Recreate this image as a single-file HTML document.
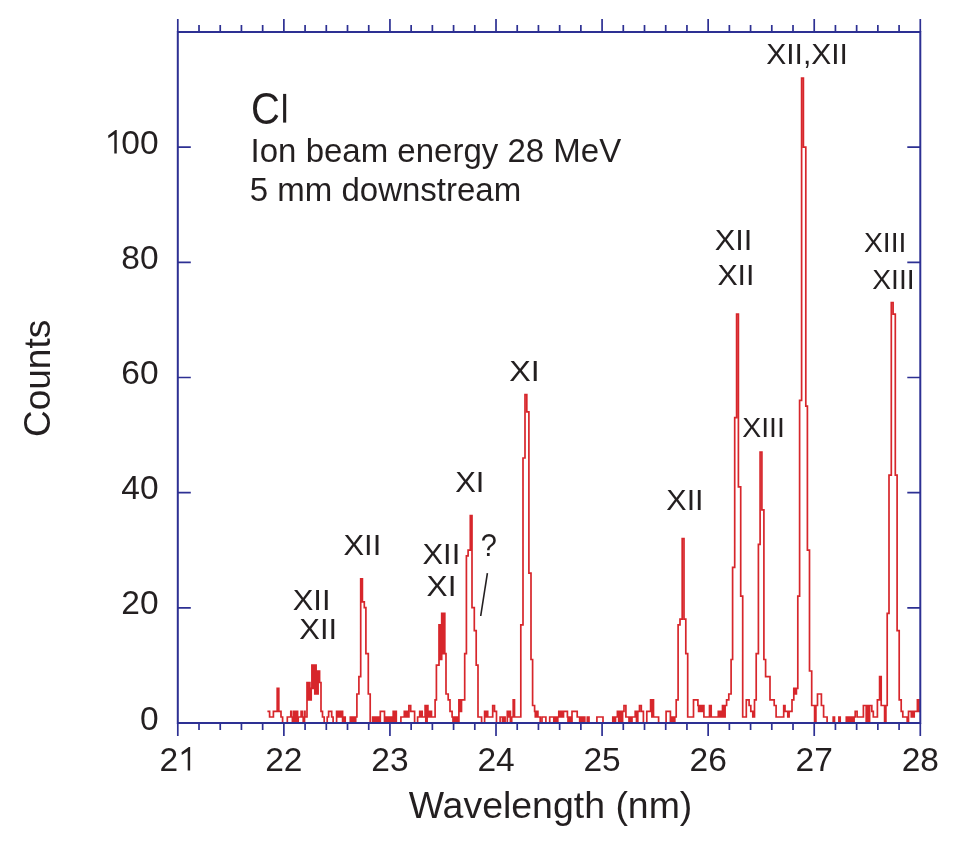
<!DOCTYPE html>
<html><head><meta charset="utf-8"><style>html,body{margin:0;padding:0;background:#fff;}svg{display:block;will-change:transform;}text{font-family:"Liberation Sans",sans-serif;}</style></head>
<body><svg width="972" height="849" viewBox="0 0 972 849">
<path d="M267.4,711.3H269.6V717.0H273.4V711.3H277.2V688.3H278.8V711.3H281.0V717.0H282.6V722.8H287.3V717.0H290.8V711.3H291.6V717.0H292.4V722.8H293.7V711.3H295.0V722.8H296.3V711.3H297.6V722.8H298.2V717.0H301.1V711.3H302.3V717.0H303.2V722.8H304.5V711.3H305.0V717.0H307.0V682.5H308.3V699.8H309.0V682.5H309.9V688.3H310.6V699.8H311.2V688.3H311.9V665.2H313.3V688.3H314.0V665.2H314.8V694.0H315.5V665.2H316.1V694.0H316.8V671.0H317.5V694.0H318.1V671.0H319.6V682.5H321.0V711.3H322.5V717.0H324.2V722.8H327.2V717.0H328.6V711.3H331.7V717.0H333.1V722.8H336.6V711.3H337.3V717.0H338.6V711.3H339.9V717.0H341.2V711.3H342.6V722.8H343.9V717.0H345.2V722.8H346.7V722.8H350.3V717.0H351.6V722.8H352.9V717.0H354.2V722.8H355.7V717.0H356.9V694.0H358.9V676.7H360.7V578.9H362.4V601.9H364.3V607.7H365.9V653.7H368.3V694.0H370.2V722.8H372.6V717.0H373.9V722.8H375.2V717.0H376.5V722.8H377.8V717.0H379.1V722.8H380.3V711.3H384.5V722.8H385.0V717.0H386.3V722.8H387.6V717.0H388.9V722.8H390.2V717.0H391.5V722.8H392.8V717.0H393.2V711.3H394.5V722.8H395.8V711.3H396.3V722.8H400.9V717.0H404.3V711.3H405.6V717.0H406.9V711.3H408.2V717.0H408.9V705.5H410.7V711.3H414.6V722.8H417.6V717.0H419.7V711.3H420.4V717.0H421.7V711.3H422.2V717.0H425.1V705.5H425.8V722.8H427.1V705.5H427.9V711.3H428.6V717.0H429.9V711.3H431.5V717.0H435.1V699.8H436.4V665.2H439.0V624.9H439.7V659.5H440.4V624.9H441.1V659.5H441.7V613.4H442.4V653.7H443.1V613.4H443.8V653.7H444.3V613.4H444.8V653.7H446.0V694.0H448.2V699.8H450.0V711.3H452.1V717.0H453.0V722.8H454.3V717.0H455.6V722.8H456.9V717.0H458.2V722.8H458.9V699.8H460.2V711.3H461.5V699.8H463.1V699.8H464.7V653.7H466.4V555.8H468.1V550.1H470.3V515.5H472.0V607.7H474.3V630.7H476.2V665.2H478.0V717.0H481.6V722.8H484.6V711.3H485.3V717.0H486.6V711.3H487.7V717.0H492.7V705.5H494.5V711.3H496.5V722.8H500.1V717.0H502.5V722.8H503.8V717.0H505.1V722.8H507.3V711.3H508.6V717.0H509.3V711.3H510.4V722.8H511.7V717.0H513.2V699.8H514.5V717.0H516.0V717.0H520.8V624.9H523.0V458.0H525.0V394.7H526.8V411.9H528.9V573.1H531.0V659.5H532.6V705.5H534.6V711.3H535.3V717.0H536.6V711.3H537.9V717.0H538.6V717.0H540.2V722.8H542.0V717.0H545.9V722.8H549.7V717.0H553.8V722.8H555.2V717.0H556.4V722.8H557.8V717.0H558.8V711.3H560.1V717.0H561.4V711.3H562.7V717.0H563.5V711.3H567.4V717.0H568.0V722.8H569.3V717.0H570.6V722.8H572.0V711.3H577.2V717.0H579.7V722.8H581.0V717.0H582.3V722.8H583.6V717.0H584.8V722.8H587.3V717.0H589.0V722.8H596.9V717.0H603.0V722.8H612.8V717.0H614.5V722.8H615.5V717.0H617.4V711.3H618.7V722.8H620.0V711.3H621.3V722.8H622.6V711.3H624.0V705.5H625.9V717.0H629.0V722.8H630.3V717.0H631.6V722.8H632.0V717.0H635.2V711.3H636.5V722.8H637.8V711.3H639.5V705.5H641.3V711.3H643.4V722.8H646.8V711.3H650.6V699.8H651.9V717.0H652.6V699.8H653.5V717.0H658.6V722.8H666.1V711.3H670.4V722.8H671.2V717.0H671.8V722.8H672.5V717.0H674.0V722.8H674.8V717.0H676.2V699.8H678.1V624.9H680.0V619.2H682.2V538.6H684.0V619.2H685.8V653.7H687.7V717.0H693.5V699.8H697.9V705.5H698.6V711.3H699.9V705.5H701.2V711.3H702.5V705.5H703.9V717.0H709.5V705.5H711.2V717.0H718.3V711.3H719.6V717.0H720.9V711.3H722.2V717.0H722.5V705.5H723.8V717.0H725.1V705.5H726.6V699.8H728.8V694.0H731.1V659.5H732.6V567.4H734.7V417.7H736.6V314.1H738.4V486.8H740.7V596.1H742.7V717.0H746.3V699.8H749.1V705.5H750.8V711.3H752.8V717.0H754.5V699.8H756.2V653.7H758.4V544.3H760.1V452.2H761.9V509.8H763.9V659.5H765.6V676.7H770.0V699.8H774.2V705.5H776.1V717.0H783.7V705.5H785.0V711.3H786.0V711.3H787.8V717.0H789.1V711.3H790.4V711.3H792.0V699.8H793.8V688.3H795.1V694.0H796.4V688.3H797.8V596.1H799.6V400.4H801.6V78.0H803.4V147.1H805.8V406.2H807.4V550.1H809.5V671.0H811.7V705.5H814.6V722.8H815.9V705.5H817.5V694.0H821.4V705.5H823.6V717.0H827.1V722.8H833.2V717.0H834.5V722.8H835.4V722.8H838.9V717.0H840.2V722.8H841.5V722.8H846.3V717.0H847.6V722.8H848.9V717.0H850.2V722.8H851.5V717.0H852.8V722.8H854.1V717.0H855.2V711.3H857.1V717.0H863.4V705.5H866.2V722.8H867.5V705.5H868.8V722.8H869.6V705.5H871.8V711.3H873.3V717.0H877.4V699.8H879.6V676.7H881.2V705.5H884.6V722.8H885.9V705.5H887.2V613.4H889.0V475.2H891.3V302.5H893.1V314.1H895.3V475.2H897.1V630.7H899.2V699.8H901.2V711.3H902.8V717.0H907.2V722.8H908.5V711.3H910.0V711.3H911.3V717.0H912.6V711.3H913.9V717.0H914.2V711.3H917.4V699.8H919.0V711.3H920.3V711.3" fill="none" stroke="#d7262b" stroke-width="1.7" stroke-linejoin="miter"/><path d="M177.80,723.0v13.0M177.80,32.039999999999964v-13.0M199.01,723.0v7.0M199.01,32.039999999999964v-7.0M220.23,723.0v7.0M220.23,32.039999999999964v-7.0M241.44,723.0v7.0M241.44,32.039999999999964v-7.0M262.66,723.0v7.0M262.66,32.039999999999964v-7.0M283.87,723.0v13.0M283.87,32.039999999999964v-13.0M305.08,723.0v7.0M305.08,32.039999999999964v-7.0M326.30,723.0v7.0M326.30,32.039999999999964v-7.0M347.51,723.0v7.0M347.51,32.039999999999964v-7.0M368.73,723.0v7.0M368.73,32.039999999999964v-7.0M389.94,723.0v13.0M389.94,32.039999999999964v-13.0M411.15,723.0v7.0M411.15,32.039999999999964v-7.0M432.37,723.0v7.0M432.37,32.039999999999964v-7.0M453.58,723.0v7.0M453.58,32.039999999999964v-7.0M474.80,723.0v7.0M474.80,32.039999999999964v-7.0M496.01,723.0v13.0M496.01,32.039999999999964v-13.0M517.22,723.0v7.0M517.22,32.039999999999964v-7.0M538.44,723.0v7.0M538.44,32.039999999999964v-7.0M559.65,723.0v7.0M559.65,32.039999999999964v-7.0M580.87,723.0v7.0M580.87,32.039999999999964v-7.0M602.08,723.0v13.0M602.08,32.039999999999964v-13.0M623.29,723.0v7.0M623.29,32.039999999999964v-7.0M644.51,723.0v7.0M644.51,32.039999999999964v-7.0M665.72,723.0v7.0M665.72,32.039999999999964v-7.0M686.94,723.0v7.0M686.94,32.039999999999964v-7.0M708.15,723.0v13.0M708.15,32.039999999999964v-13.0M729.36,723.0v7.0M729.36,32.039999999999964v-7.0M750.58,723.0v7.0M750.58,32.039999999999964v-7.0M771.79,723.0v7.0M771.79,32.039999999999964v-7.0M793.01,723.0v7.0M793.01,32.039999999999964v-7.0M814.22,723.0v13.0M814.22,32.039999999999964v-13.0M835.43,723.0v7.0M835.43,32.039999999999964v-7.0M856.65,723.0v7.0M856.65,32.039999999999964v-7.0M877.86,723.0v7.0M877.86,32.039999999999964v-7.0M899.08,723.0v7.0M899.08,32.039999999999964v-7.0M920.29,723.0v13.0M920.29,32.039999999999964v-13.0M177.8,723.00h13M920.29,723.00h-13M177.8,607.84h13M920.29,607.84h-13M177.8,492.68h13M920.29,492.68h-13M177.8,377.52h13M920.29,377.52h-13M177.8,262.36h13M920.29,262.36h-13M177.8,147.20h13M920.29,147.20h-13M177.8,32.04h13M920.29,32.04h-13" fill="none" stroke="#2d3093" stroke-width="1.7"/><path d="M177.8,32.039999999999964H920.29V723.0H177.8Z" fill="none" stroke="#2d3093" stroke-width="2.0"/><g fill="#231f20" font-family="Liberation Sans, sans-serif"><text x="158.6" y="729.6" font-size="33.5" text-anchor="end" >0</text><text x="158.6" y="614.44" font-size="33.5" text-anchor="end" >20</text><text x="158.6" y="499.28000000000003" font-size="33.5" text-anchor="end" >40</text><text x="158.6" y="384.12" font-size="33.5" text-anchor="end" >60</text><text x="158.6" y="268.96000000000004" font-size="33.5" text-anchor="end" >80</text><text x="158.6" y="153.80000000000004" font-size="33.5" text-anchor="end" >00</text><text x="283.87" y="770.5" font-size="33.5" text-anchor="middle" >22</text><text x="389.94" y="770.5" font-size="33.5" text-anchor="middle" >23</text><text x="496.01" y="770.5" font-size="33.5" text-anchor="middle" >24</text><text x="602.0799999999999" y="770.5" font-size="33.5" text-anchor="middle" >25</text><text x="708.1499999999999" y="770.5" font-size="33.5" text-anchor="middle" >26</text><text x="814.22" y="770.5" font-size="33.5" text-anchor="middle" >27</text><text x="920.29" y="770.5" font-size="33.5" text-anchor="middle" >28</text><text x="159.6" y="770.5" font-size="33.5" text-anchor="start" >2</text><text x="550.5" y="817.8" font-size="37.45" text-anchor="middle" >Wavelength (nm)</text><text x="0" y="0" font-size="37" text-anchor="middle" transform="translate(50.0,378.4) rotate(-90)">Counts</text><text transform="translate(251,123.7) scale(1,1.117)" font-size="40">C</text><rect x="283.1" y="93.9" width="3.1" height="28.7"/><text x="250.6" y="162" font-size="33" text-anchor="start" >Ion beam energy 28 MeV</text><text x="249.8" y="201" font-size="33" text-anchor="start" >5 mm downstream</text><text transform="translate(766.24,64.0) scale(1.0171,1)" font-size="29.5">XII,XII</text><text transform="translate(714.69,249.7) scale(1.0440,1)" font-size="29.5">XII</text><text transform="translate(717.38,284.8) scale(1.0279,1)" font-size="29.5">XII</text><text transform="translate(863.97,251.7) scale(0.9919,1)" font-size="28.5">XIII</text><text transform="translate(872.20,289.0) scale(0.9914,1)" font-size="28.5">XIII</text><text transform="translate(509.24,380.7) scale(1.0933,1)" font-size="29.5">XI</text><text transform="translate(742.17,437.4) scale(0.9985,1)" font-size="28.5">XIII</text><text transform="translate(666.35,509.6) scale(1.0326,1)" font-size="29.5">XII</text><text transform="translate(455.20,492.1) scale(1.0487,1)" font-size="29.5">XI</text><text transform="translate(343.47,555.4) scale(1.0489,1)" font-size="29.5">XII</text><text transform="translate(422.47,563.5) scale(1.0489,1)" font-size="29.5">XII</text><text transform="translate(426.61,596.0) scale(1.0716,1)" font-size="29.5">XI</text><text transform="translate(480.71,555.6) scale(0.9200,1)" font-size="31.5">?</text><text transform="translate(292.68,610.4) scale(1.0479,1)" font-size="29.5">XII</text><text transform="translate(299.35,639.3) scale(1.0462,1)" font-size="29.5">XII</text></g><path d="M487.4,573.1L480.7,616" stroke="#231f20" stroke-width="1.6"/><path d="M116.75,130.00L116.75,153.60L114.30,153.60L114.30,134.37L108.45,138.14L108.15,135.43L115.45,130.00ZM190.15,746.90L190.15,770.50L187.70,770.50L187.70,751.27L181.85,755.04L181.55,752.33L188.85,746.90Z" fill="#231f20"/>
</svg></body></html>
